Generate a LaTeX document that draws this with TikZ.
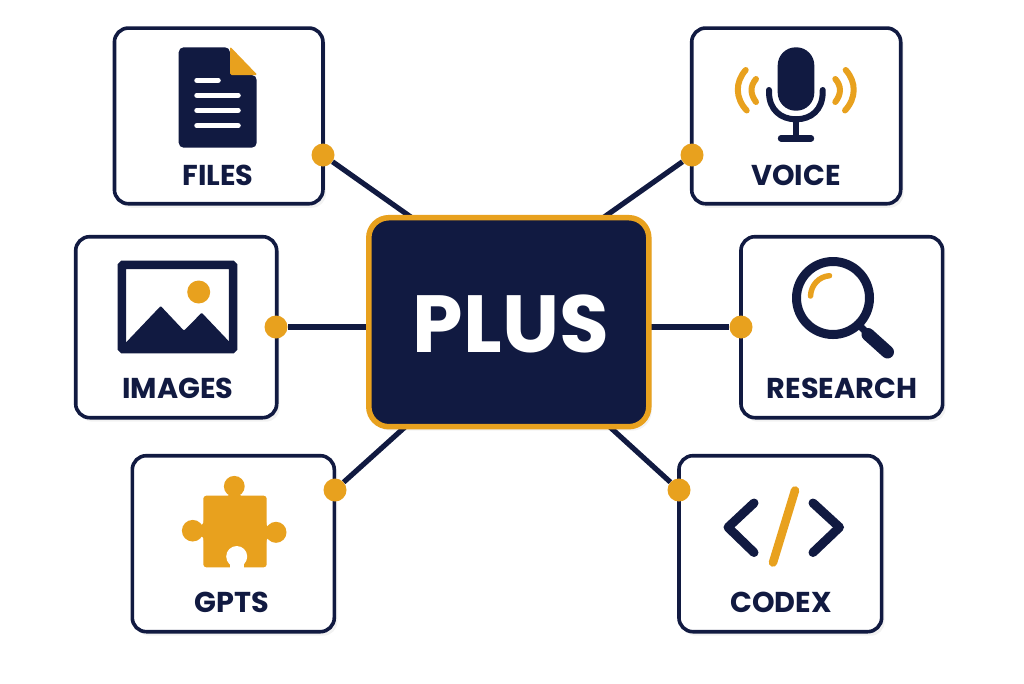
\documentclass[tikz,border=0pt]{standalone}
\usepackage{fontspec}
\setmainfont{Poppins}
\usepackage{tikz}
\usetikzlibrary{shadows}
\definecolor{navy}{HTML}{111A41}
\definecolor{amber}{HTML}{E8A11E}
\tikzstyle{card}=[rectangle,rounded corners=14pt,draw=navy,fill=white,line width=3.6pt,inner sep=0pt,
  drop shadow={shadow xshift=3pt,shadow yshift=-4pt,fill=black,opacity=.05}]
\tikzstyle{hubbox}=[rectangle,rounded corners=20pt,draw=amber,fill=navy,line width=5.5pt,inner sep=0pt,
  minimum width=280pt,minimum height=209pt,
  drop shadow={shadow xshift=3pt,shadow yshift=-4pt,fill=black,opacity=.05}]
\tikzstyle{dot}=[circle,fill=amber,minimum size=23pt,inner sep=0pt]
\tikzstyle{link}=[line width=5.2pt,draw=navy]
\tikzstyle{cardtxt}=[anchor=base,inner sep=0pt,text=navy,font=\fontsize{28.7}{28.7}\selectfont\bfseries]
\tikzstyle{navyline}=[draw=navy,line cap=round,line join=round]
\tikzstyle{amberline}=[draw=amber,line cap=round,line join=round]

\begin{document}
\begin{tikzpicture}[x=1pt,y=-1pt]
            \useasboundingbox[fill=white] (0,0) rectangle (1024,683);

            \node[card,minimum width=208.5pt,minimum height=175.7pt] (files)    at (218.7,115.9) {};
            \node[card,minimum width=209pt,minimum height=175.7pt]   (voice)    at (796.2,115.9) {};
            \node[card,minimum width=201pt,minimum height=181pt]     (images)   at (176.2,327.2) {};
            \node[card,minimum width=201.7pt,minimum height=181pt]   (research) at (841.8,327.2) {};
            \node[card,minimum width=202pt,minimum height=176pt]     (gpts)     at (233.3,543.7) {};
            \node[card,minimum width=202.7pt,minimum height=176pt]   (codex)    at (780.3,543.7) {};

            \node[cardtxt] (filestxt)    at (218,185) {FILES};
            \node[cardtxt] (voicetxt)    at (796,185) {VOICE};
            \node[cardtxt] (imagestxt)   at (178,398) {IMAGES};
            \node[cardtxt] (researchtxt) at (842,398) {RESEARCH};
            \node[cardtxt] (gptstxt)     at (232,612) {GPTS};
            \node[cardtxt] (codextxt)    at (781,612) {CODEX};

            \node[dot] (filesdot)    at (323,155) {};
            \node[dot] (voicedot)    at (692,155) {};
            \node[dot] (imagesdot)   at (276,327) {};
            \node[dot] (researchdot) at (741,327) {};
            \node[dot] (gptsdot)     at (335,490) {};
            \node[dot] (codexdot)    at (679,490) {};

            \coordinate (filesend)    at (420,223.5);
            \coordinate (voiceend)    at (595,223.5);
            \coordinate (imagesend)   at (380,327);
            \coordinate (researchend) at (640,327);
            \coordinate (gptsend)     at (415,418);
            \coordinate (codexend)    at (600,418);
            \path[link] (filesend) edge (filesdot);
            \path[link] (voiceend) edge (voicedot);
            \path[link] (imagesend) edge (imagesdot);
            \path[link] (researchend) edge (researchdot);
            \path[link] (gptsend) edge (gptsdot);
            \path[link] (codexend) edge (codexdot);

            \node[hubbox] (hub) at (508.8,322.2) {};
            \node[anchor=base,inner sep=0pt,text=white,font=\fontsize{81}{81}\selectfont\bfseries] (hubtxt) at (511,352.5) {PLUS};

            \fill[navy,rounded corners=5pt] (178.7,47.3) -- (230,47.3) -- (230,75) -- (256.7,75)
                -- (256.7,147.7) -- (178.7,147.7) -- cycle;
            \fill[amber,rounded corners=1.5pt] (230,46.5) -- (257.5,75) -- (230,75) -- cycle;
            \foreach \y/\x in {80.3/220.7,95.3/240.7,110.3/240.7,125.7/240.7}
                \draw[white,line width=5.5pt,line cap=round] (197,\y) -- (\x-2.7,\y);

            \fill[navy,rounded corners=18pt] (777.7,47.3) rectangle (814.3,110.7);
            \draw[navyline,line width=6pt] (769,90) -- (769,92) .. controls (769,110) and (781,119.3) .. (796,119.3)
                .. controls (811,119.3) and (822.7,110) .. (822.7,92) -- (822.7,90);
            \draw[navyline,line width=6pt] (796,119) -- (796,138.3);
            \draw[navyline,line width=6.4pt] (781,138.3) -- (811,138.3);
            \draw[amberline,line width=6pt] (745.7,70) .. controls (735,82) and (735,98) .. (746.7,110.5);
            \draw[amberline,line width=6pt] (756,79) .. controls (750,86) and (750,94) .. (756,102);
            \draw[amberline,line width=6pt] (845.7,70) .. controls (856.5,82) and (856.5,98) .. (845,110.5);
            \draw[amberline,line width=6pt] (835.3,79) .. controls (841.5,86) and (841.5,94) .. (835.3,102);

            \draw[navy,line width=8.4pt,rounded corners=1pt] (121.9,264.9) rectangle (233.1,349.1);
            \fill[navy,rounded corners=1pt] (125,343.5) -- (160.7,306) -- (184,330.7) -- (201.7,312.7) -- (230.5,343) -- (230.5,346) -- (125,346) -- cycle;
            \fill[amber] (198.7,292) circle[radius=11.5];

            \draw[navy,line width=9pt] (833,298) circle[radius=36.5];
            \draw[navy,line width=7pt] (857,323) -- (869,335);
            \draw[navyline,line width=13pt] (868,334.5) -- (887.5,352);
            \draw[amberline,line width=5.5pt] (810.5,296) .. controls (811,285) and (819,276.5) .. (829.5,275.7);

            \fill[amber,rounded corners=3pt] (203.3,495.7) rectangle (266.7,567.3);
            \fill[amber] (234.3,486.3) circle[radius=10.4];
            \fill[amber] (224,497) .. controls (229,497) and (231,494) .. (228,490) -- (241,490) .. controls (238,494) and (240,497) .. (245,497) -- cycle;
            \fill[amber] (192.7,530.7) circle[radius=10.8];
            \fill[amber] (204,520) .. controls (204,525) and (201,526) .. (197,523) -- (197,538) .. controls (201,535.5) and (204,536) .. (204,541) -- cycle;
            \fill[amber] (276,532.3) circle[radius=10.5];
            \fill[amber] (266,522) .. controls (266,527) and (269,528) .. (272,525) -- (272,539.5) .. controls (269,537) and (266,538) .. (266,543) -- cycle;
            \fill[white] (236.7,556.5) circle[radius=10.5];
            \fill[white] (230,556) rectangle (244,569);

            \draw[navyline,line width=9pt] (754,503) -- (728,527.3) -- (754,552.5);
            \draw[navyline,line width=9pt] (813,503) -- (839.5,527.3) -- (813,552.5);
            \draw[amberline,line width=8.5pt] (795,490.5) -- (773,562.5);

        \end{tikzpicture}
\end{document}
